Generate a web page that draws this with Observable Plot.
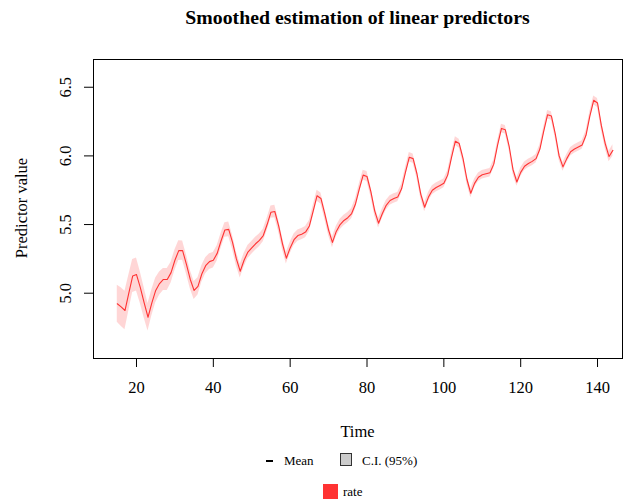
<!DOCTYPE html>
<html><head><meta charset="utf-8">
<script src="https://cdn.jsdelivr.net/npm/d3@7"></script>
<script src="https://cdn.jsdelivr.net/npm/@observablehq/plot@0.6"></script>
<style>
body{margin:0;background:#fff;}
#wrap{position:relative;width:623px;height:502px;font-family:"Liberation Serif","DejaVu Serif",serif;color:#000;overflow:hidden;}
#wrap svg{position:absolute;left:0;top:0;}
.lab{position:absolute;white-space:nowrap;}
</style></head><body><div id="wrap"></div>
<script>
const time = [15,16,17,18,19,20,21,22,23,24,25,26,27,28,29,30,31,32,33,34,35,36,37,38,39,40,41,42,43,44,45,46,47,48,49,50,51,52,53,54,55,56,57,58,59,60,61,62,63,64,65,66,67,68,69,70,71,72,73,74,75,76,77,78,79,80,81,82,83,84,85,86,87,88,89,90,91,92,93,94,95,96,97,98,99,100,101,102,103,104,105,106,107,108,109,110,111,112,113,114,115,116,117,118,119,120,121,122,123,124,125,126,127,128,129,130,131,132,133,134,135,136,137,138,139,140,141,142,143,144];
const meanRate = [4.923,4.900,4.874,5.000,5.125,5.136,5.040,4.930,4.825,4.930,5.020,5.070,5.100,5.100,5.150,5.240,5.310,5.310,5.210,5.100,5.020,5.050,5.140,5.200,5.230,5.240,5.290,5.380,5.460,5.465,5.370,5.250,5.160,5.240,5.300,5.330,5.360,5.385,5.420,5.500,5.590,5.595,5.490,5.360,5.255,5.330,5.390,5.420,5.430,5.445,5.490,5.600,5.710,5.690,5.580,5.460,5.370,5.450,5.500,5.530,5.550,5.580,5.650,5.760,5.860,5.850,5.740,5.600,5.510,5.580,5.640,5.675,5.690,5.700,5.760,5.880,5.990,5.980,5.870,5.720,5.626,5.700,5.750,5.770,5.785,5.800,5.860,5.990,6.107,6.090,5.980,5.830,5.728,5.800,5.845,5.862,5.870,5.877,5.940,6.080,6.200,6.190,6.070,5.900,5.810,5.880,5.925,5.945,5.960,5.980,6.050,6.180,6.300,6.290,6.160,6.000,5.920,5.980,6.030,6.050,6.065,6.080,6.150,6.290,6.405,6.385,6.220,6.090,5.995,6.040];
const ciHalf = [0.135,0.140,0.140,0.130,0.120,0.120,0.115,0.110,0.100,0.095,0.090,0.085,0.080,0.080,0.076,0.074,0.072,0.070,0.070,0.068,0.066,0.063,0.060,0.058,0.057,0.056,0.055,0.054,0.053,0.053,0.052,0.051,0.050,0.049,0.048,0.047,0.047,0.046,0.046,0.045,0.045,0.045,0.044,0.044,0.043,0.042,0.042,0.041,0.041,0.041,0.040,0.040,0.040,0.040,0.039,0.039,0.039,0.038,0.038,0.038,0.037,0.037,0.037,0.037,0.036,0.036,0.036,0.036,0.036,0.035,0.035,0.035,0.035,0.034,0.034,0.034,0.034,0.034,0.034,0.033,0.033,0.033,0.033,0.033,0.033,0.032,0.032,0.032,0.032,0.032,0.032,0.032,0.032,0.031,0.031,0.031,0.031,0.031,0.031,0.031,0.031,0.031,0.031,0.031,0.031,0.031,0.031,0.031,0.031,0.031,0.031,0.031,0.031,0.031,0.031,0.031,0.031,0.031,0.031,0.031,0.031,0.031,0.031,0.031,0.032,0.033,0.034,0.036,0.038,0.042];
const xTicks = [20,40,60,80,100,120,140];
const yTicks = [5.0,5.5,6.0,6.5];
const titleText = "Smoothed estimation of linear predictors";
const xLabel = "Time";
const yLabel = "Predictor value";
const seriesName = "rate";
const legendMean = "Mean";
const legendCI = "C.I. (95%)";

const data = time.map((t,i)=>({t, mean: meanRate[i], lo: meanRate[i]-ciHalf[i], hi: meanRate[i]+ciHalf[i]}));
const red = "#ff3333";
const fmt = d3.format(".1f");

const chart = Plot.plot({
  width: 623, height: 502,
  marginTop: 59, marginBottom: 144, marginLeft: 93, marginRight: 1,
  x: {domain: [8.81, 146.5]},
  y: {domain: [4.5245, 6.702]},
  style: {background: "white", color: "black", fontFamily: '"Liberation Serif", serif', fontSize: "16.5px", overflow: "visible"},
  marks: [
    Plot.areaY(data, {x: "t", y1: "lo", y2: "hi", fill: red, fillOpacity: 0.2}),
    Plot.lineY(data, {x: "t", y: "mean", stroke: red, strokeWidth: 1.1}),
    Plot.frame({stroke: "black", strokeWidth: 1}),
    Plot.axisX(xTicks, {tickSize: 9, tickPadding: 14, label: null, stroke: "black", fontSize: 16.5}),
    Plot.axisY(yTicks, {tickSize: 9, tickFormat: () => "", label: null, stroke: "black"}),
    Plot.text(yTicks, {y: d => d, text: d => fmt(d), frameAnchor: "left", dx: -28, rotate: -90, textAnchor: "middle", lineAnchor: "middle", fontSize: 16.5, fill: "black"})
  ]
});
const wrap = document.getElementById("wrap");
wrap.appendChild(chart);

function lab(text, css){ const d=document.createElement("div"); d.className="lab"; d.textContent=text; Object.assign(d.style, css); wrap.appendChild(d); return d; }
lab(titleText, {left:"93px", width:"529px", textAlign:"center", top:"6px", lineHeight:"22px", fontSize:"19.8px", fontWeight:"bold"});
lab(xLabel, {left:"93px", width:"529px", textAlign:"center", top:"421px", lineHeight:"22px", fontSize:"16.5px"});
lab(yLabel, {left:"22px", top:"208px", lineHeight:"20px", fontSize:"16.5px", transform:"translate(-50%,-50%) rotate(-90deg)", transformOrigin:"center"});
const dash=document.createElement("div"); Object.assign(dash.style,{position:"absolute",left:"266px",top:"460px",width:"7px",height:"1.5px",background:"#000"}); wrap.appendChild(dash);
lab(legendMean, {left:"284px", top:"453px", lineHeight:"16px", fontSize:"13px"});
const box=document.createElement("div"); Object.assign(box.style,{position:"absolute",left:"340px",top:"453px",width:"12px",height:"13px",background:"#cccccc",border:"1px solid #333",boxSizing:"border-box"}); wrap.appendChild(box);
lab(legendCI, {left:"362px", top:"453px", lineHeight:"16px", fontSize:"13px"});
const sq=document.createElement("div"); Object.assign(sq.style,{position:"absolute",left:"323px",top:"484px",width:"15px",height:"15px",background:red}); wrap.appendChild(sq);
lab(seriesName, {left:"343px", top:"484px", lineHeight:"16px", fontSize:"13px"});
</script></body></html>
